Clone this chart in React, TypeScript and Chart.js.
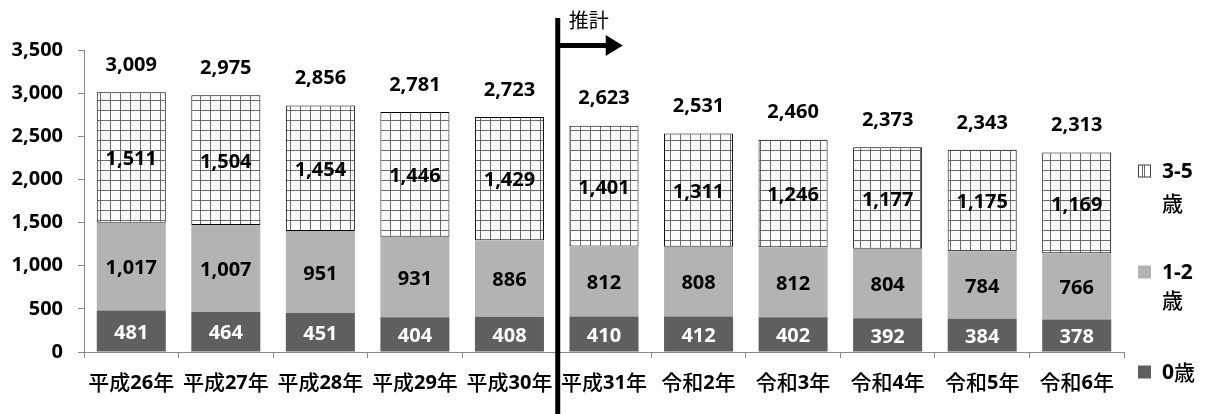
import React, { useEffect, useRef } from "react";
import { Chart, registerables } from "chart.js";

Chart.register(...registerables);

const categories = [
  "平成26年", "平成27年", "平成28年", "平成29年", "平成30年", "平成31年",
  "令和2年", "令和3年", "令和4年", "令和5年", "令和6年",
];
const age0 = [481, 464, 451, 404, 408, 410, 412, 402, 392, 384, 378];
const age12 = [1017, 1007, 951, 931, 886, 812, 808, 812, 804, 784, 766];
const age35 = [1511, 1504, 1454, 1446, 1429, 1401, 1311, 1246, 1177, 1175, 1169];
const totals = [3009, 2975, 2856, 2781, 2723, 2623, 2531, 2460, 2373, 2343, 2313];
const seriesNames = ["0歳", "1-2歳", "3-5歳"];
const yMax = 3500;
const yStep = 500;
const forecastLabel = "推計";
const forecastStartIndex = 5;

const NUM = "'Open Sans', 'Noto Sans', sans-serif";
const CJK = "'Noto Sans CJK JP', sans-serif";
const C0 = "#5f5f5f";
const C12 = "#b3b3b3";

const fmt = (v: number) => v.toLocaleString("en-US");

function makePattern(): CanvasPattern | string {
  const c = document.createElement("canvas");
  c.width = 10;
  c.height = 10;
  const g = c.getContext("2d");
  if (!g) return "#fff";
  g.fillStyle = "#ffffff";
  g.fillRect(0, 0, 10, 10);
  g.fillStyle = "#ececec";
  for (let i = 2; i < 10; i += 3) {
    g.fillRect(5, i, 1, 1);
    g.fillRect(i, 5, 1, 1);
  }
  g.fillStyle = "#6a6a6a";
  g.fillRect(0, 0, 10, 1);
  g.fillRect(0, 0, 1, 10);
  return g.createPattern(c, "repeat") || "#fff";
}

function drawMixed(
  ctx: CanvasRenderingContext2D,
  text: string,
  x: number,
  y: number,
  align: "center" | "left",
  size: number,
  digitSize: number
) {
  const runs = text.match(/[0-9\-]+|[^0-9\-]+/g) || [];
  const isNum = (r: string) => /^[0-9\-]+$/.test(r);
  const fontFor = (r: string) =>
    isNum(r) ? `bold ${digitSize}px ${NUM}` : `500 ${size}px ${CJK}`;
  let total = 0;
  const widths = runs.map((r) => {
    ctx.font = fontFor(r);
    const w = ctx.measureText(r).width;
    total += w;
    return w;
  });
  let cx = align === "center" ? x - total / 2 : x;
  ctx.textAlign = "left";
  ctx.textBaseline = "middle";
  runs.forEach((r, i) => {
    ctx.font = fontFor(r);
    ctx.fillText(r, cx, isNum(r) ? y + 1 : y);
    cx += widths[i];
  });
}

export default function App() {
  const ref = useRef<HTMLCanvasElement | null>(null);

  useEffect(() => {
    if (!ref.current) return;
    const pattern = makePattern();

    const overlay = {
      id: "overlay",
      afterDatasetsDraw(chart: any) {
        const ctx: CanvasRenderingContext2D = chart.ctx;
        ctx.save();
        ctx.textAlign = "center";
        ctx.textBaseline = "middle";
        ctx.font = `bold 20px ${NUM}`;
        chart.data.datasets.forEach((ds: any, di: number) => {
          const meta = chart.getDatasetMeta(di);
          meta.data.forEach((el: any, i: number) => {
            const v = ds.data[i];
            ctx.fillStyle = di === 0 ? "#ffffff" : "#000000";
            ctx.fillText(fmt(v), el.x, (el.y + el.base) / 2 + 2);
          });
        });
        const top = chart.getDatasetMeta(2);
        ctx.fillStyle = "#000";
        top.data.forEach((el: any, i: number) => {
          ctx.fillText(fmt(totals[i]), el.x, el.y - 27);
        });
        ctx.restore();
      },
      afterDraw(chart: any) {
        const ctx: CanvasRenderingContext2D = chart.ctx;
        const xs = chart.scales.x;
        ctx.save();
        ctx.fillStyle = "#000";
        categories.forEach((c, i) => {
          drawMixed(ctx, c, xs.getPixelForValue(i), 382, "center", 21, 20);
        });
        // forecast divider
        const bx =
          (xs.getPixelForValue(forecastStartIndex - 1) + xs.getPixelForValue(forecastStartIndex)) / 2 + 1;
        ctx.fillStyle = "#000";
        ctx.fillRect(bx - 2.5, 18, 5, chart.height - 18);
        ctx.fillRect(bx, 43, 50, 5);
        ctx.beginPath();
        ctx.moveTo(bx + 48, 35);
        ctx.lineTo(bx + 65, 45.5);
        ctx.lineTo(bx + 48, 56);
        ctx.closePath();
        ctx.fill();
        ctx.font = `20px ${CJK}`;
        ctx.textAlign = "left";
        ctx.textBaseline = "middle";
        ctx.fillText(forecastLabel, bx + 11, 20);

        // legend
        const lx = 1138;
        const tx = 1162;
        const sw = 13;
        const items = [
          { name: seriesNames[2], y: 171, y2: 203, fill: pattern, border: "#444" },
          { name: seriesNames[1], y: 272, y2: 300, fill: C12, border: null },
          { name: seriesNames[0], y: 372, y2: 0, fill: C0, border: null },
        ];
        items.forEach((it) => {
          ctx.fillStyle = it.fill as any;
          ctx.fillRect(lx, it.y - sw / 2, sw, sw);
          if (it.border) {
            ctx.fillStyle = "#fff";
            ctx.fillRect(lx, it.y - sw / 2, sw, sw);
            ctx.strokeStyle = it.border;
            ctx.lineWidth = 1;
            ctx.strokeRect(lx + 0.5, it.y - sw / 2 + 0.5, sw - 1, sw - 1);
            ctx.fillStyle = "#666";
            ctx.fillRect(lx + 4, it.y - sw / 2, 1, sw);
            ctx.fillRect(lx + 6, it.y - sw / 2, 1, sw);
          }
          ctx.fillStyle = "#000";
          const m = it.name.match(/^([0-9\-]+)(.*)$/);
          if (m && it.y2) {
            ctx.font = `bold 21px ${NUM}`;
            ctx.textAlign = "left";
            ctx.textBaseline = "middle";
            ctx.fillText(m[1], tx, it.y + 1);
            ctx.font = `500 21px ${CJK}`;
            ctx.fillText(m[2], tx, it.y2);
          } else {
            drawMixed(ctx, it.name, tx, it.y, "left", 21, 21);
          }
        });
        ctx.restore();
      },
    };

    const chart = new Chart(ref.current, {
      type: "bar",
      data: {
        labels: categories,
        datasets: [
          {
            label: seriesNames[0],
            data: age0,
            backgroundColor: C0,
            borderWidth: 0,
          },
          {
            label: seriesNames[1],
            data: age12,
            backgroundColor: C12,
            borderWidth: 0,
          },
          {
            label: seriesNames[2],
            data: age35,
            backgroundColor: pattern as any,
            borderColor: "#000",
            borderWidth: 1,
            borderSkipped: false,
          },
        ],
      },
      options: {
        animation: false,
        responsive: true,
        maintainAspectRatio: false,
        datasets: { bar: { categoryPercentage: 1, barPercentage: 0.73 } },
        layout: { padding: { left: 0, right: 84, top: 50, bottom: 0 } },
        plugins: {
          legend: { display: false },
          tooltip: { enabled: false },
          title: { display: false },
        },
        scales: {
          x: {
            stacked: true,
            afterFit: (s: any) => {
              s.height = 62;
            },
            grid: {
              drawOnChartArea: false,
              drawTicks: true,
              tickLength: 6,
              color: "#8a8a8a",
              offset: true,
            },
            border: { display: true, color: "#8a8a8a", width: 1 },
            ticks: { display: false },
          },
          y: {
            stacked: true,
            min: 0,
            max: yMax,
            afterFit: (s: any) => {
              s.width = 84;
            },
            grid: {
              drawOnChartArea: false,
              drawTicks: true,
              tickLength: 6,
              color: "#8a8a8a",
            },
            border: { display: true, color: "#8a8a8a", width: 1 },
            ticks: {
              stepSize: yStep,
              padding: 15,
              color: "#000",
              font: { family: NUM, size: 20, weight: "bold" },
              callback: (v: any) => fmt(Number(v)),
            },
          },
        },
      },
      plugins: [overlay],
    });
    return () => chart.destroy();
  }, []);

  return (
    <div style={{ position: "absolute", left: 0, top: 0, width: 1208, height: 414, background: "#fff" }}>
      <canvas ref={ref} />
    </div>
  );
}
